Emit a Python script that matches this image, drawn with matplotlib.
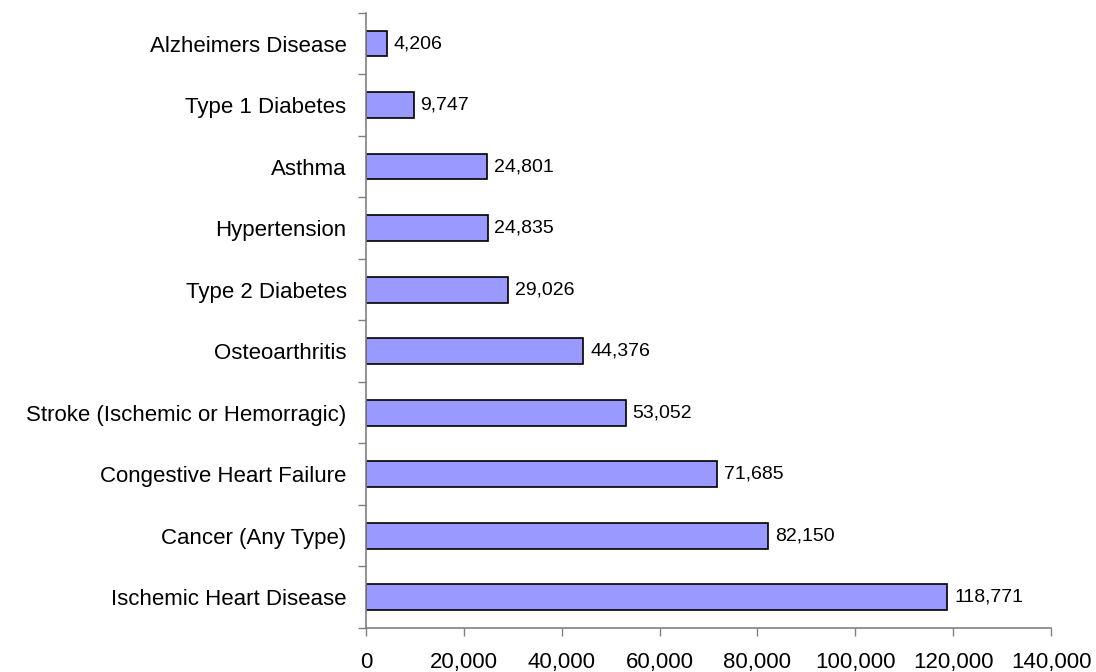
import matplotlib
matplotlib.use("Agg")
import matplotlib.pyplot as plt
import numpy as np
from matplotlib.ticker import FuncFormatter, FixedLocator

categories = [
    "Ischemic Heart Disease",
    "Cancer (Any Type)",
    "Congestive Heart Failure",
    "Stroke (Ischemic or Hemorragic)",
    "Osteoarthritis",
    "Type 2 Diabetes",
    "Hypertension",
    "Asthma",
    "Type 1 Diabetes",
    "Alzheimers Disease",
]
values = [118771, 82150, 71685, 53052, 44376, 29026, 24835, 24801, 9747, 4206]
x_ticks = [0, 20000, 40000, 60000, 80000, 100000, 120000, 140000]

plt.rcParams["font.family"] = ["Liberation Sans", "DejaVu Sans"]

fig = plt.figure(figsize=(10.96, 6.72), dpi=100)
ax = fig.add_axes([0.334, 0.0655, 0.625, 0.9155])

pos = np.arange(len(categories))
ax.barh(pos, values, height=0.42, color="#9999FF", edgecolor="black", linewidth=1.2)

for y, v in zip(pos, values):
    ax.text(v + 1400, y, f"{v:,}", va="center", ha="left", fontsize=14)

ax.set_ylim(-0.5, len(categories) - 0.5)
ax.set_xlim(0, 140000)
ax.set_yticks(pos)
ax.set_yticklabels(categories, fontsize=16)
ax.yaxis.set_minor_locator(FixedLocator(np.arange(-0.5, len(categories), 1.0)))
ax.tick_params(axis="y", which="major", length=0, pad=14)
ax.tick_params(axis="y", which="minor", length=6, width=1, color="#808080", direction="out")

ax.set_xticks(x_ticks)
ax.xaxis.set_major_formatter(FuncFormatter(lambda v, p: f"{int(v):,}"))
ax.tick_params(axis="x", length=6, width=1, color="#808080", direction="out", pad=11, labelsize=16)

for side in ("top", "right"):
    ax.spines[side].set_visible(False)
for side in ("left", "bottom"):
    ax.spines[side].set_color("#808080")
    ax.spines[side].set_linewidth(1.2)

fig.savefig("out.png", dpi=100)
